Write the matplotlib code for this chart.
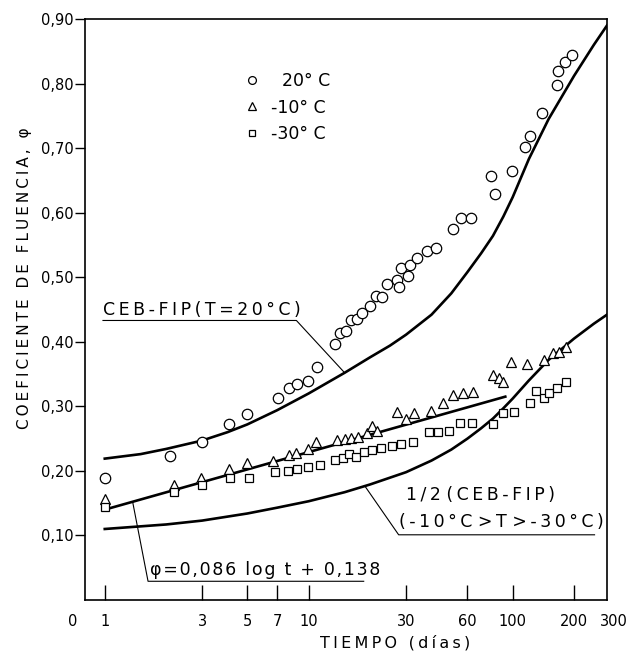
import matplotlib.pyplot as plt

# --- data ---
# 20 C (circles)
t_20 = [1, 2.1, 3, 4.05, 5, 7.05, 8, 8.8, 9.9, 11, 13.4, 14.3, 15.3, 16.2, 17.2,
        18.2, 19.9, 21.3, 22.8, 24.2, 27, 27.8, 28.5, 30.5, 31.2, 33.8, 38.2, 42.3,
        50.7, 56, 62.3, 77.9, 81.5, 99, 115, 121, 140, 164, 166, 181, 196]
phi_20 = [0.189, 0.223, 0.245, 0.273, 0.288, 0.313, 0.329, 0.335, 0.340, 0.361, 0.397,
          0.414, 0.417, 0.434, 0.436, 0.445, 0.456, 0.471, 0.470, 0.490, 0.495, 0.485,
          0.515, 0.502, 0.519, 0.530, 0.541, 0.546, 0.575, 0.591, 0.591, 0.657, 0.629,
          0.665, 0.702, 0.718, 0.755, 0.797, 0.820, 0.833, 0.845]

# -10 C (triangles)
t_m10 = [1, 2.18, 2.98, 4.05, 5, 6.7, 8, 8.7, 9.9, 10.9, 13.7, 15, 16.2, 17.5, 19.2,
         20.5, 21.6, 27, 30.1, 33, 39.9, 45.6, 51, 57, 64.2, 80, 85.6, 90, 98, 117,
         142, 158, 169, 183]
phi_m10 = [0.157, 0.178, 0.189, 0.203, 0.212, 0.216, 0.225, 0.228, 0.234, 0.245, 0.248,
           0.249, 0.251, 0.252, 0.259, 0.270, 0.262, 0.291, 0.280, 0.290, 0.292, 0.305,
           0.318, 0.321, 0.322, 0.349, 0.344, 0.338, 0.369, 0.366, 0.372, 0.383, 0.384,
           0.392]

# -30 C (squares)
t_m30 = [1, 2.18, 3, 4.1, 5.1, 6.8, 7.9, 8.8, 9.9, 11.3, 13.5, 14.7, 15.7, 17, 18.6,
         20.5, 22.7, 25.7, 28.5, 32.3, 39, 43, 48.5, 55.3, 63, 80.4, 90, 101, 121, 130,
         142, 150, 164, 183]
phi_m30 = [0.144, 0.167, 0.178, 0.189, 0.189, 0.198, 0.200, 0.203, 0.206, 0.209, 0.217,
           0.220, 0.226, 0.222, 0.229, 0.232, 0.236, 0.239, 0.242, 0.245, 0.260, 0.260,
           0.262, 0.274, 0.274, 0.273, 0.290, 0.291, 0.305, 0.324, 0.313, 0.321, 0.328,
           0.338]

# CEB-FIP (T=20 C) curve
t_ceb = [1, 1.5, 2, 3, 4, 5, 7, 10, 15, 20, 25, 30, 40, 50, 60, 70, 80, 90, 100,
         120, 150, 200, 250, 290]
phi_ceb = [0.219, 0.226, 0.234, 0.247, 0.260, 0.272, 0.294, 0.320, 0.352, 0.376,
           0.394, 0.411, 0.442, 0.475, 0.508, 0.537, 0.564, 0.594, 0.624, 0.683,
           0.745, 0.812, 0.860, 0.890]

# 1/2 (CEB-FIP) curve
t_half = [1, 2, 3, 5, 7, 10, 15, 20, 30, 40, 50, 60, 70, 80, 90, 100, 120, 150,
          200, 250, 290]
phi_half = [0.110, 0.117, 0.123, 0.134, 0.143, 0.153, 0.167, 0.179, 0.198, 0.216,
            0.233, 0.250, 0.266, 0.281, 0.297, 0.312, 0.340, 0.372, 0.405, 0.428,
            0.442]

# fitted line phi = 0.086 log t + 0.138
t_fit = [1, 92]
phi_fit = [0.140, 0.315]

# leader lines (data coords)
lead_ceb = ([0.98, 8.7, 15.0], [0.433, 0.433, 0.352])
lead_half = ([252, 27.6, 18.8], [0.101, 0.101, 0.177])
lead_fit = ([18.6, 1.63, 1.37], [0.029, 0.029, 0.152])

x_ticks = [1, 3, 5, 7, 10, 30, 60, 100, 200]
y_ticks = [0.1, 0.2, 0.3, 0.4, 0.5, 0.6, 0.7, 0.8, 0.9]


def track(s, gap='\u2009', blanks=False):
    # wide letter spacing like the hand lettering
    out = s[0]
    for a, b in zip(s[:-1], s[1:]):
        if blanks or (a != ' ' and b != ' '):
            out += gap
        out += b
    return out


plt.rcParams['font.family'] = ['DejaVu Sans']

fig = plt.figure(figsize=(6.29, 6.55), dpi=100)
ax = fig.add_axes([85/629, 1 - 600/655, 522/629, 581/655])

ax.set_xscale('log')
ax.set_xlim(0.8, 290)
ax.set_ylim(0, 0.90)

# curves
ax.plot(t_ceb, phi_ceb, color='black', lw=1.9, zorder=2)
ax.plot(t_half, phi_half, color='black', lw=1.9, zorder=2)
ax.plot(t_fit, phi_fit, color='black', lw=1.9, zorder=2)

# leaders
for lx, ly in (lead_ceb, lead_half, lead_fit):
    ax.plot(lx, ly, color='black', lw=0.8, zorder=2)

# data points
mk = dict(color='black', markerfacecolor='white', markeredgewidth=0.9,
          linestyle='none', zorder=3)
ax.plot(t_20, phi_20, marker='o', markersize=7.5, label='  20° C', **mk)
ax.plot(t_m10, phi_m10, marker='^', markersize=7.5, label='-10° C', **mk)
ax.plot(t_m30, phi_m30, marker='s', markersize=6.3, label='-30° C', **mk)

leg = ax.legend(loc='upper left', bbox_to_anchor=(0.287, 0.924), frameon=False,
                fontsize=12.5, handlelength=1.0, handletextpad=0.6,
                labelspacing=0.5, borderpad=0, markerscale=0.75)

# annotations
ax.text(0.98, 0.442, track('CEB-FIP(T=20°C)'), fontsize=12.5, va='baseline')
ax.text(29.9, 0.163, track('1/2 (CEB-FIP)'), fontsize=12.5, va='center')
ax.text(27.6, 0.121, track('(-10°C >T >-30°C)'), fontsize=12.5, va='center')
ax.text(1.66, 0.047, track('φ=0,086 log t + 0,138', '\u200a', blanks=True),
        fontsize=12.5, va='center')

# axes styling
for s in ax.spines.values():
    s.set_linewidth(1.2)
ax.set_xticks(x_ticks)
ax.set_xticklabels([str(v) for v in x_ticks])
ax.minorticks_off()
ax.set_yticks(y_ticks)
ax.set_yticklabels([('%.2f' % v).replace('.', ',') for v in y_ticks])
ax.tick_params(axis='x', direction='in', length=11, width=1.0, pad=10, labelsize=10.5)
ax.tick_params(axis='y', direction='out', length=7, width=1.0, pad=1, labelsize=10.5)

xt = ax.get_xaxis_transform()
ax.text(0.70, -0.024, '0', transform=xt, ha='center', va='top', fontsize=10.5)
ax.text(312, -0.024, '300', transform=xt, ha='center', va='top', fontsize=10.5)

fig.text(395/629, 1 - 643/655, track('TIEMPO (días)', blanks=True), ha='center',
         va='center', fontsize=11.5)
fig.text(25/629, 1 - 278/655, track('COEFICIENTE DE FLUENCIA, φ', blanks=True),
         ha='center', va='center', rotation=90, fontsize=11)

fig.savefig('out.png', dpi=100)
